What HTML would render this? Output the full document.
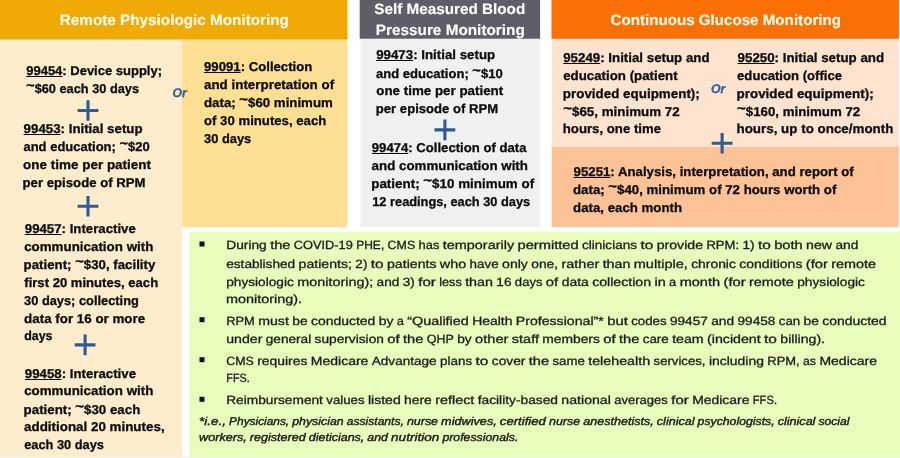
<!DOCTYPE html>
<html><head><meta charset="utf-8"><title>RPM codes</title>
<style>
html,body{margin:0;padding:0}
body{width:900px;height:458px;position:relative;overflow:hidden;background:#fff;font-family:"Liberation Sans",sans-serif}
#w{position:absolute;left:0;top:0;width:900px;height:458px;will-change:transform}
.x{position:absolute}
.t{position:absolute;white-space:nowrap;line-height:20px;transform-origin:0 0;text-rendering:geometricPrecision}
s{text-decoration:none;position:relative;top:-2.7px;line-height:0;font-size:1.12em}
u{text-decoration:underline;text-decoration-thickness:1.2px;text-underline-offset:1.3px}
.b{font-size:12.8px;font-weight:bold;font-style:normal;color:#0d0d0d;-webkit-text-stroke:0.3px #0d0d0d}
.h{font-size:15px;font-weight:bold;font-style:normal;color:#FFFBEA;-webkit-text-stroke:0.15px #FFFBEA}
.hw{font-size:15px;font-weight:bold;font-style:normal;color:#FFFFFF;-webkit-text-stroke:0.15px #FFFFFF}
.g{font-size:11.9px;font-weight:normal;font-style:normal;color:#1a1a1a;-webkit-text-stroke:0.3px #1a1a1a}
.i{font-size:11.2px;font-weight:normal;font-style:italic;color:#1a1a1a;-webkit-text-stroke:0.4px #1a1a1a}
.o{font-size:12.6px;font-weight:bold;font-style:italic;color:#2F629C;-webkit-text-stroke:0.3px #2F629C}
</style></head><body><div id="w">
<svg class="x" style="left:0;top:0;" width="900" height="458" viewBox="0 0 900 458">
<rect x="0" y="38" width="182" height="420" fill="#FEEDCD"/>
<rect x="181.9" y="38" width="165.5" height="189.2" fill="#FEDF94"/>
<rect x="0" y="0" width="347.5" height="39.5" fill="#EFAA06"/>
<rect x="360.2" y="38" width="179.8" height="189.1" fill="#F0F0F0"/>
<rect x="359.7" y="0" width="180.4" height="38.7" fill="#5F5D67"/>
<rect x="551.8" y="38" width="347" height="108.6" fill="#FEE3CF"/>
<rect x="551.8" y="146.6" width="347" height="80.5" fill="#FDC397"/>
<rect x="551.5" y="0" width="347.4" height="38.8" fill="#FA7005"/>
<rect x="189.3" y="231.7" width="710.7" height="226.3" fill="#E8FDBC"/>
<rect x="0" y="456.6" width="900" height="1.4" fill="rgba(240,240,240,0.7)"/>
<path d="M88 100.2v20.6M77.6 110.5h20.8M88 195.9v20.6M77.6 206.2h20.8M85.1 334.6v20.6M74.7 344.9h20.8M444.9 119.6v20.6M434.5 129.9h20.8M722.1 133v20.6M711.7 143.3h20.8" stroke="#2F5A92" stroke-width="3.1" fill="none"/>
<rect x="199.5" y="241.5" width="5" height="5" fill="#111"/>
<rect x="199.5" y="317.2" width="5" height="5" fill="#111"/>
<rect x="199.5" y="357.2" width="5" height="5" fill="#111"/>
<rect x="199.5" y="396.8" width="5" height="5" fill="#111"/>
</svg>
<div class="t h" style="left:0;top:0;transform:translate(59.80px,11px) scaleX(1.0184)">Remote Physiologic Monitoring</div>
<div class="t hw" style="left:0;top:0;transform:translate(374.31px,0px) scaleX(1.0173)">Self Measured Blood</div>
<div class="t hw" style="left:0;top:0;transform:translate(375.80px,21px) scaleX(1.0214)">Pressure Monitoring</div>
<div class="t h" style="left:0;top:0;transform:translate(610.44px,11px) scaleX(1.0098)">Continuous Glucose Monitoring</div>
<div class="t b" style="left:0;top:0;transform:translate(26.20px,61px) scaleX(1.0155)"><u>99454</u>: Device supply;</div>
<div class="t b" style="left:0;top:0;transform:translate(26.32px,79px) scaleX(0.9974)"><s>~</s>$60 each 30 days</div>
<div class="t b" style="left:0;top:0;transform:translate(23.60px,119px) scaleX(1.0387)"><u>99453</u>: Initial setup</div>
<div class="t b" style="left:0;top:0;transform:translate(23.42px,137px) scaleX(1.0161)">and education; <s>~</s>$20</div>
<div class="t b" style="left:0;top:0;transform:translate(23.10px,155px) scaleX(1.0519)">one time per patient</div>
<div class="t b" style="left:0;top:0;transform:translate(22.56px,173px) scaleX(1.0295)">per episode of RPM</div>
<div class="t b" style="left:0;top:0;transform:translate(24.80px,219px) scaleX(1.0332)"><u>99457</u>: Interactive</div>
<div class="t b" style="left:0;top:0;transform:translate(24.13px,237px) scaleX(1.0447)">communication with</div>
<div class="t b" style="left:0;top:0;transform:translate(23.62px,255px) scaleX(1.0357)">patient; <s>~</s>$30, facility</div>
<div class="t b" style="left:0;top:0;transform:translate(24.28px,273px) scaleX(1.0229)">first 20 minutes, each</div>
<div class="t b" style="left:0;top:0;transform:translate(24.05px,291px) scaleX(1.0021)">30 days; collecting</div>
<div class="t b" style="left:0;top:0;transform:translate(24.08px,309px) scaleX(1.0446)">data for 16 or more</div>
<div class="t b" style="left:0;top:0;transform:translate(24.13px,326px) scaleX(0.9744)">days</div>
<div class="t b" style="left:0;top:0;transform:translate(24.80px,364px) scaleX(1.0351)"><u>99458</u>: Interactive</div>
<div class="t b" style="left:0;top:0;transform:translate(24.13px,381px) scaleX(1.0447)">communication with</div>
<div class="t b" style="left:0;top:0;transform:translate(23.62px,400px) scaleX(1.0397)">patient; <s>~</s>$30 each</div>
<div class="t b" style="left:0;top:0;transform:translate(24.02px,417px) scaleX(1.0460)">additional 20 minutes,</div>
<div class="t b" style="left:0;top:0;transform:translate(24.15px,435px) scaleX(1.0021)">each 30 days</div>
<div class="t b" style="left:0;top:0;transform:translate(204.00px,57px) scaleX(1.0290)"><u>99091</u>: Collection</div>
<div class="t b" style="left:0;top:0;transform:translate(204.00px,75px) scaleX(1.0459)">and interpretation of</div>
<div class="t b" style="left:0;top:0;transform:translate(204.00px,93px) scaleX(1.0361)">data; <s>~</s>$60 minimum</div>
<div class="t b" style="left:0;top:0;transform:translate(204.00px,111px) scaleX(1.0299)">of 30 minutes, each</div>
<div class="t b" style="left:0;top:0;transform:translate(204.00px,129px) scaleX(1.0052)">30 days</div>
<div class="t o" style="left:0;top:0;transform:translate(172.60px,83px) scaleX(0.9677)">Or</div>
<div class="t b" style="left:0;top:0;transform:translate(376.20px,45px) scaleX(1.0385)"><u>99473</u>: Initial setup</div>
<div class="t b" style="left:0;top:0;transform:translate(376.02px,64px) scaleX(1.0188)">and education; <s>~</s>$10</div>
<div class="t b" style="left:0;top:0;transform:translate(376.25px,81px) scaleX(1.0441)">one time per patient</div>
<div class="t b" style="left:0;top:0;transform:translate(375.83px,99px) scaleX(1.0236)">per episode of RPM</div>
<div class="t b" style="left:0;top:0;transform:translate(371.80px,138px) scaleX(1.0257)"><u>99474</u>: Collection of data</div>
<div class="t b" style="left:0;top:0;transform:translate(371.62px,156px) scaleX(1.0421)">and communication with</div>
<div class="t b" style="left:0;top:0;transform:translate(371.20px,174px) scaleX(1.0473)">patient; <s>~</s>$10 minimum of</div>
<div class="t b" style="left:0;top:0;transform:translate(372.24px,192px) scaleX(1.0000)">12 readings, each 30 days</div>
<div class="t b" style="left:0;top:0;transform:translate(563.20px,48px) scaleX(1.0394)"><u>95249</u>: Initial setup and</div>
<div class="t b" style="left:0;top:0;transform:translate(563.23px,66px) scaleX(1.0378)">education (patient</div>
<div class="t b" style="left:0;top:0;transform:translate(562.82px,84px) scaleX(1.0470)">provided equipment);</div>
<div class="t b" style="left:0;top:0;transform:translate(563.23px,102px) scaleX(1.0445)"><s>~</s>$65, minimum 72</div>
<div class="t b" style="left:0;top:0;transform:translate(562.80px,119px) scaleX(1.0307)">hours, one time</div>
<div class="t o" style="left:0;top:0;transform:translate(710.99px,79px) scaleX(0.9810)">Or</div>
<div class="t b" style="left:0;top:0;transform:translate(737.60px,48px) scaleX(1.0402)"><u>95250</u>: Initial setup and</div>
<div class="t b" style="left:0;top:0;transform:translate(737.07px,66px) scaleX(1.0252)">education (office</div>
<div class="t b" style="left:0;top:0;transform:translate(736.53px,84px) scaleX(1.0480)">provided equipment);</div>
<div class="t b" style="left:0;top:0;transform:translate(737.06px,102px) scaleX(1.0380)"><s>~</s>$160, minimum 72</div>
<div class="t b" style="left:0;top:0;transform:translate(736.48px,119px) scaleX(1.0462)">hours, up to once/month</div>
<div class="t b" style="left:0;top:0;transform:translate(573.60px,162px) scaleX(1.0331)"><u>95251</u>: Analysis, interpretation, and report of</div>
<div class="t b" style="left:0;top:0;transform:translate(573.03px,180px) scaleX(1.0351)">data; <s>~</s>$40, minimum of 72 hours worth of</div>
<div class="t b" style="left:0;top:0;transform:translate(573.04px,198px) scaleX(1.0360)">data, each month</div>
<div class="t g" style="left:0;top:0;transform:translate(226.20px,235px) scaleX(1.1577)">During</div>
<div class="t g" style="left:0;top:0;transform:translate(270.13px,235px) scaleX(1.2271)">the</div>
<div class="t g" style="left:0;top:0;transform:translate(293.80px,235px) scaleX(1.0759)">COVID-19</div>
<div class="t g" style="left:0;top:0;transform:translate(356.18px,235px) scaleX(1.0101)">PHE,</div>
<div class="t g" style="left:0;top:0;transform:translate(387.60px,235px) scaleX(1.0440)">CMS</div>
<div class="t g" style="left:0;top:0;transform:translate(418.58px,235px) scaleX(1.0874)">has</div>
<div class="t g" style="left:0;top:0;transform:translate(442.81px,235px) scaleX(1.2121)">temporarily</div>
<div class="t g" style="left:0;top:0;transform:translate(517.47px,235px) scaleX(1.2332)">permitted</div>
<div class="t g" style="left:0;top:0;transform:translate(581.99px,235px) scaleX(1.1408)">clinicians</div>
<div class="t g" style="left:0;top:0;transform:translate(640.41px,235px) scaleX(1.2983)">to</div>
<div class="t g" style="left:0;top:0;transform:translate(656.67px,235px) scaleX(1.1895)">provide</div>
<div class="t g" style="left:0;top:0;transform:translate(706.44px,235px) scaleX(1.0963)">RPM:</div>
<div class="t g" style="left:0;top:0;transform:translate(742.41px,235px) scaleX(1.1440)">1)</div>
<div class="t g" style="left:0;top:0;transform:translate(757.89px,235px) scaleX(1.2983)">to</div>
<div class="t g" style="left:0;top:0;transform:translate(774.15px,235px) scaleX(1.2342)">both</div>
<div class="t g" style="left:0;top:0;transform:translate(806.11px,235px) scaleX(1.1893)">new</div>
<div class="t g" style="left:0;top:0;transform:translate(835.45px,235px) scaleX(1.1517)">and</div>
<div class="t g" style="left:0;top:0;transform:translate(226.20px,254px) scaleX(1.1464)">established</div>
<div class="t g" style="left:0;top:0;transform:translate(298.53px,254px) scaleX(1.1889)">patients;</div>
<div class="t g" style="left:0;top:0;transform:translate(355.35px,254px) scaleX(1.1415)">2)</div>
<div class="t g" style="left:0;top:0;transform:translate(370.80px,254px) scaleX(1.2955)">to</div>
<div class="t g" style="left:0;top:0;transform:translate(387.02px,254px) scaleX(1.1873)">patients</div>
<div class="t g" style="left:0;top:0;transform:translate(439.85px,254px) scaleX(1.2071)">who</div>
<div class="t g" style="left:0;top:0;transform:translate(469.57px,254px) scaleX(1.1289)">have</div>
<div class="t g" style="left:0;top:0;transform:translate(502.06px,254px) scaleX(1.1848)">only</div>
<div class="t g" style="left:0;top:0;transform:translate(531.29px,254px) scaleX(1.1586)">one,</div>
<div class="t g" style="left:0;top:0;transform:translate(561.49px,254px) scaleX(1.2161)">rather</div>
<div class="t g" style="left:0;top:0;transform:translate(602.64px,254px) scaleX(1.2004)">than</div>
<div class="t g" style="left:0;top:0;transform:translate(633.80px,254px) scaleX(1.2187)">multiple,</div>
<div class="t g" style="left:0;top:0;transform:translate(691.14px,254px) scaleX(1.1670)">chronic</div>
<div class="t g" style="left:0;top:0;transform:translate(739.25px,254px) scaleX(1.1800)">conditions</div>
<div class="t g" style="left:0;top:0;transform:translate(805.81px,254px) scaleX(1.2400)">(for</div>
<div class="t g" style="left:0;top:0;transform:translate(831.31px,254px) scaleX(1.2101)">remote</div>
<div class="t g" style="left:0;top:0;transform:translate(226.20px,272px) scaleX(1.1499)">physiologic</div>
<div class="t g" style="left:0;top:0;transform:translate(297.22px,272px) scaleX(1.2100)">monitoring);</div>
<div class="t g" style="left:0;top:0;transform:translate(376.56px,272px) scaleX(1.1509)">and</div>
<div class="t g" style="left:0;top:0;transform:translate(402.77px,272px) scaleX(1.1432)">3)</div>
<div class="t g" style="left:0;top:0;transform:translate(418.24px,272px) scaleX(1.2694)">for</div>
<div class="t g" style="left:0;top:0;transform:translate(439.25px,272px) scaleX(1.0650)">less</div>
<div class="t g" style="left:0;top:0;transform:translate(465.15px,272px) scaleX(1.2022)">than</div>
<div class="t g" style="left:0;top:0;transform:translate(496.37px,272px) scaleX(1.1434)">16</div>
<div class="t g" style="left:0;top:0;transform:translate(514.87px,272px) scaleX(1.0981)">days</div>
<div class="t g" style="left:0;top:0;transform:translate(545.84px,272px) scaleX(1.2526)">of</div>
<div class="t g" style="left:0;top:0;transform:translate(561.64px,272px) scaleX(1.1723)">data</div>
<div class="t g" style="left:0;top:0;transform:translate(592.16px,272px) scaleX(1.1884)">collection</div>
<div class="t g" style="left:0;top:0;transform:translate(654.46px,272px) scaleX(1.2163)">in</div>
<div class="t g" style="left:0;top:0;transform:translate(669.10px,272px) scaleX(1.0794)">a</div>
<div class="t g" style="left:0;top:0;transform:translate(679.63px,272px) scaleX(1.2245)">month</div>
<div class="t g" style="left:0;top:0;transform:translate(723.49px,272px) scaleX(1.2419)">(for</div>
<div class="t g" style="left:0;top:0;transform:translate(749.02px,272px) scaleX(1.2119)">remote</div>
<div class="t g" style="left:0;top:0;transform:translate(797.25px,272px) scaleX(1.1499)">physiologic</div>
<div class="t g" style="left:0;top:0;transform:translate(226.04px,289px) scaleX(1.2108)">monitoring).</div>
<div class="t g" style="left:0;top:0;transform:translate(226.20px,311px) scaleX(1.0830)">RPM</div>
<div class="t g" style="left:0;top:0;transform:translate(258.21px,311px) scaleX(1.1893)">must</div>
<div class="t g" style="left:0;top:0;transform:translate(292.25px,311px) scaleX(1.1559)">be</div>
<div class="t g" style="left:0;top:0;transform:translate(310.93px,311px) scaleX(1.1738)">conducted</div>
<div class="t g" style="left:0;top:0;transform:translate(378.73px,311px) scaleX(1.1643)">by</div>
<div class="t g" style="left:0;top:0;transform:translate(396.73px,311px) scaleX(1.0813)">a</div>
<div class="t g" style="left:0;top:0;transform:translate(407.28px,311px) scaleX(1.2083)">“Qualified</div>
<div class="t g" style="left:0;top:0;transform:translate(472.15px,311px) scaleX(1.1700)">Health</div>
<div class="t g" style="left:0;top:0;transform:translate(515.75px,311px) scaleX(1.1887)">Professional”*</div>
<div class="t g" style="left:0;top:0;transform:translate(607.13px,311px) scaleX(1.2536)">but</div>
<div class="t g" style="left:0;top:0;transform:translate(631.23px,311px) scaleX(1.1141)">codes</div>
<div class="t g" style="left:0;top:0;transform:translate(669.97px,311px) scaleX(1.1457)">99457</div>
<div class="t g" style="left:0;top:0;transform:translate(711.25px,311px) scaleX(1.1529)">and</div>
<div class="t g" style="left:0;top:0;transform:translate(737.51px,311px) scaleX(1.1457)">99458</div>
<div class="t g" style="left:0;top:0;transform:translate(778.78px,311px) scaleX(1.1133)">can</div>
<div class="t g" style="left:0;top:0;transform:translate(803.51px,311px) scaleX(1.1559)">be</div>
<div class="t g" style="left:0;top:0;transform:translate(822.19px,311px) scaleX(1.1738)">conducted</div>
<div class="t g" style="left:0;top:0;transform:translate(226.20px,329px) scaleX(1.1885)">under</div>
<div class="t g" style="left:0;top:0;transform:translate(265.73px,329px) scaleX(1.1469)">general</div>
<div class="t g" style="left:0;top:0;transform:translate(314.60px,329px) scaleX(1.1519)">supervision</div>
<div class="t g" style="left:0;top:0;transform:translate(387.27px,329px) scaleX(1.2524)">of</div>
<div class="t g" style="left:0;top:0;transform:translate(403.07px,329px) scaleX(1.2260)">the</div>
<div class="t g" style="left:0;top:0;transform:translate(426.71px,329px) scaleX(1.0493)">QHP</div>
<div class="t g" style="left:0;top:0;transform:translate(457.14px,329px) scaleX(1.1620)">by</div>
<div class="t g" style="left:0;top:0;transform:translate(475.11px,329px) scaleX(1.2299)">other</div>
<div class="t g" style="left:0;top:0;transform:translate(511.83px,329px) scaleX(1.2170)">staff</div>
<div class="t g" style="left:0;top:0;transform:translate(542.30px,329px) scaleX(1.1618)">members</div>
<div class="t g" style="left:0;top:0;transform:translate(603.26px,329px) scaleX(1.2524)">of</div>
<div class="t g" style="left:0;top:0;transform:translate(619.06px,329px) scaleX(1.2260)">the</div>
<div class="t g" style="left:0;top:0;transform:translate(642.70px,329px) scaleX(1.1275)">care</div>
<div class="t g" style="left:0;top:0;transform:translate(672.16px,329px) scaleX(1.1914)">team</div>
<div class="t g" style="left:0;top:0;transform:translate(707.04px,329px) scaleX(1.1932)">(incident</div>
<div class="t g" style="left:0;top:0;transform:translate(764.05px,329px) scaleX(1.2972)">to</div>
<div class="t g" style="left:0;top:0;transform:translate(780.30px,329px) scaleX(1.1867)">billing).</div>
<div class="t g" style="left:0;top:0;transform:translate(226.20px,351px) scaleX(1.0441)">CMS</div>
<div class="t g" style="left:0;top:0;transform:translate(257.18px,351px) scaleX(1.1695)">requires</div>
<div class="t g" style="left:0;top:0;transform:translate(310.81px,351px) scaleX(1.1777)">Medicare</div>
<div class="t g" style="left:0;top:0;transform:translate(371.78px,351px) scaleX(1.1409)">Advantage</div>
<div class="t g" style="left:0;top:0;transform:translate(440.03px,351px) scaleX(1.1297)">plans</div>
<div class="t g" style="left:0;top:0;transform:translate(475.53px,351px) scaleX(1.2984)">to</div>
<div class="t g" style="left:0;top:0;transform:translate(491.79px,351px) scaleX(1.1550)">cover</div>
<div class="t g" style="left:0;top:0;transform:translate(528.75px,351px) scaleX(1.2271)">the</div>
<div class="t g" style="left:0;top:0;transform:translate(552.42px,351px) scaleX(1.1131)">same</div>
<div class="t g" style="left:0;top:0;transform:translate(588.16px,351px) scaleX(1.2024)">telehealth</div>
<div class="t g" style="left:0;top:0;transform:translate(653.56px,351px) scaleX(1.1078)">services,</div>
<div class="t g" style="left:0;top:0;transform:translate(708.91px,351px) scaleX(1.1724)">including</div>
<div class="t g" style="left:0;top:0;transform:translate(767.32px,351px) scaleX(1.0873)">RPM,</div>
<div class="t g" style="left:0;top:0;transform:translate(803.03px,351px) scaleX(1.0347)">as</div>
<div class="t g" style="left:0;top:0;transform:translate(819.40px,351px) scaleX(1.1777)">Medicare</div>
<div class="t g" style="left:0;top:0;transform:translate(226.29px,368px) scaleX(0.9074)">FFS.</div>
<div class="t g" style="left:0;top:0;transform:translate(226.20px,390px) scaleX(1.1526)">Reimbursement</div>
<div class="t g" style="left:0;top:0;transform:translate(326.31px,390px) scaleX(1.1123)">values</div>
<div class="t g" style="left:0;top:0;transform:translate(367.90px,390px) scaleX(1.1812)">listed</div>
<div class="t g" style="left:0;top:0;transform:translate(404.06px,390px) scaleX(1.1659)">here</div>
<div class="t g" style="left:0;top:0;transform:translate(435.18px,390px) scaleX(1.2089)">reflect</div>
<div class="t g" style="left:0;top:0;transform:translate(477.69px,390px) scaleX(1.1573)">facility-based</div>
<div class="t g" style="left:0;top:0;transform:translate(561.37px,390px) scaleX(1.1874)">national</div>
<div class="t g" style="left:0;top:0;transform:translate(614.19px,390px) scaleX(1.0976)">averages</div>
<div class="t g" style="left:0;top:0;transform:translate(671.25px,390px) scaleX(1.2630)">for</div>
<div class="t g" style="left:0;top:0;transform:translate(692.15px,390px) scaleX(1.1709)">Medicare</div>
<div class="t g" style="left:0;top:0;transform:translate(752.78px,390px) scaleX(0.9402)">FFS.</div>
<div class="t i" style="left:0;top:0;transform:translate(199.10px,412px) scaleX(1.2028)">*i.e.,</div>
<div class="t i" style="left:0;top:0;transform:translate(229.11px,412px) scaleX(1.0608)">Physicians,</div>
<div class="t i" style="left:0;top:0;transform:translate(292.22px,412px) scaleX(1.1029)">physician</div>
<div class="t i" style="left:0;top:0;transform:translate(346.74px,412px) scaleX(1.0802)">assistants,</div>
<div class="t i" style="left:0;top:0;transform:translate(406.91px,412px) scaleX(1.1118)">nurse</div>
<div class="t i" style="left:0;top:0;transform:translate(441.12px,412px) scaleX(1.1325)">midwives,</div>
<div class="t i" style="left:0;top:0;transform:translate(499.81px,412px) scaleX(1.1774)">certified</div>
<div class="t i" style="left:0;top:0;transform:translate(549.03px,412px) scaleX(1.1118)">nurse</div>
<div class="t i" style="left:0;top:0;transform:translate(583.23px,412px) scaleX(1.1225)">anesthetists,</div>
<div class="t i" style="left:0;top:0;transform:translate(656.82px,412px) scaleX(1.1216)">clinical</div>
<div class="t i" style="left:0;top:0;transform:translate(697.55px,412px) scaleX(1.0973)">psychologists,</div>
<div class="t i" style="left:0;top:0;transform:translate(777.75px,412px) scaleX(1.1216)">clinical</div>
<div class="t i" style="left:0;top:0;transform:translate(818.49px,412px) scaleX(1.0840)">social</div>
<div class="t i" style="left:0;top:0;transform:translate(199.10px,428px) scaleX(1.1275)">workers,</div>
<div class="t i" style="left:0;top:0;transform:translate(249.83px,428px) scaleX(1.1236)">registered</div>
<div class="t i" style="left:0;top:0;transform:translate(308.78px,428px) scaleX(1.1162)">dieticians,</div>
<div class="t i" style="left:0;top:0;transform:translate(367.36px,428px) scaleX(1.1058)">and</div>
<div class="t i" style="left:0;top:0;transform:translate(391.05px,428px) scaleX(1.2140)">nutrition</div>
<div class="t i" style="left:0;top:0;transform:translate(442.44px,428px) scaleX(1.0989)">professionals.</div>
</div></body></html>
